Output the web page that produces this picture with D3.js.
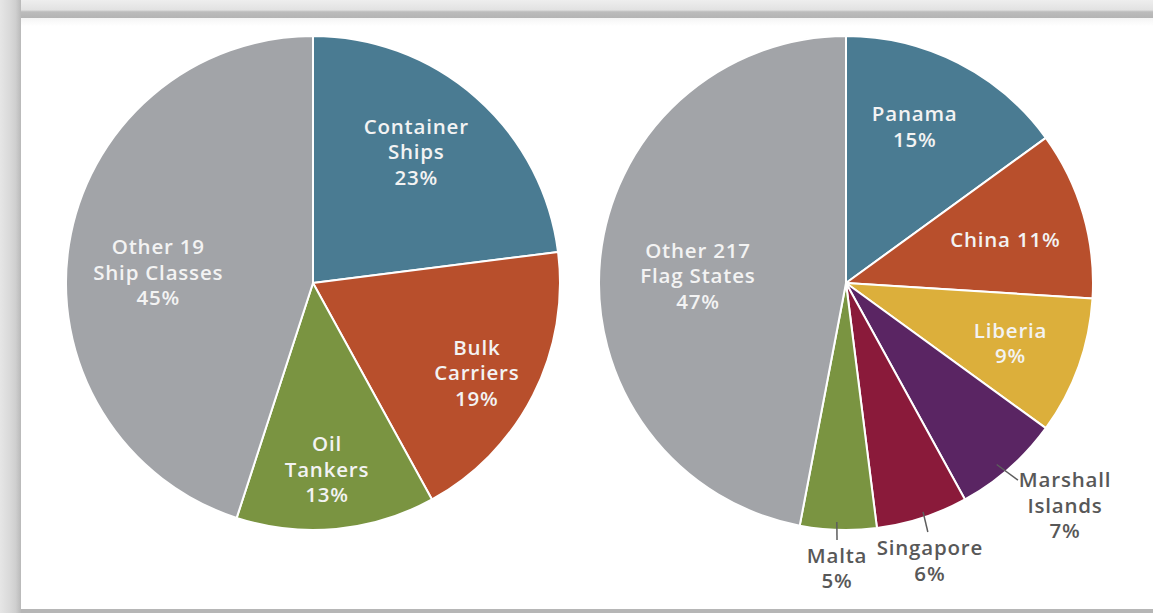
<!DOCTYPE html>
<html>
<head>
<meta charset="utf-8">
<script src="https://cdn.jsdelivr.net/npm/d3@7/dist/d3.min.js"></script>
<style>
  html, body { margin: 0; padding: 0; background: #ffffff; }
  svg { display: block; }
  text { font-family: "Open Sans", "DejaVu Sans", sans-serif; font-weight: 600; }
</style>
</head>
<body>
<svg id="chart" width="1153" height="613"></svg>
<script>
// Share of ships by class
const classNames   = ["Container Ships", "Bulk Carriers", "Oil Tankers", "Other 19 Ship Classes"];
const classLabels  = [["Container", "Ships", "23%"], ["Bulk", "Carriers", "19%"], ["Oil", "Tankers", "13%"], ["Other 19", "Ship Classes", "45%"]];
const classValues  = [23, 19, 13, 45];

// Share of ships by flag state
const flagNames    = ["Panama", "China", "Liberia", "Marshall Islands", "Singapore", "Malta", "Other 217 Flag States"];
const flagLabels   = [["Panama", "15%"], ["China 11%"], ["Liberia", "9%"], ["Marshall", "Islands", "7%"], ["Singapore", "6%"], ["Malta", "5%"], ["Other 217", "Flag States", "47%"]];
const flagValues   = [15, 11, 9, 7, 6, 5, 47];

// Slice colours
const classColors  = ["#4a7b92", "#b84f2c", "#7a9441", "#a2a4a8"];
const flagColors   = ["#4a7b92", "#b84f2c", "#dcaf3b", "#5a2563", "#8a1a3a", "#7a9441", "#a2a4a8"];

// Label placement in polar terms around each pie: [angle in degrees clockwise from 12 o'clock, radius as fraction of pie radius]
const classLabelPolar = [[38.2, 0.676], [118.8, 0.757], [175.7, 0.757], [274, 0.628]];
const flagLabelPolar  = [[23.7, 0.692], [74.9, 0.668], [110, 0.709], [135.4, 1.263], [163.2, 1.175], [181.8, 1.154], [272.7, 0.6]];
// Leader lines for the outside labels: [startAngle, startFrac, endAngle, endFrac]
const flagLeaders     = [null, null, null, [140.3, 0.955, 138.9, 1.059], [161.4, 0.978, 161.8, 1.061], [182.2, 0.968, 182.0, 1.041], null];
const flagOutside     = [false, false, false, true, true, true, false];

const W = 1153, H = 613;
const svg = d3.select("#chart");

// ---- page frame ----
const defs = svg.append("defs");
const gTop = defs.append("linearGradient").attr("id", "frameTop").attr("x1", 0).attr("y1", 0).attr("x2", 0).attr("y2", 1);
gTop.append("stop").attr("offset", "0%").attr("stop-color", "#eeeeee");
gTop.append("stop").attr("offset", "55%").attr("stop-color", "#e2e2e2");
gTop.append("stop").attr("offset", "66%").attr("stop-color", "#bcbcbc");
gTop.append("stop").attr("offset", "100%").attr("stop-color", "#b4b4b4");
const gLeft = defs.append("linearGradient").attr("id", "frameLeft").attr("x1", 0).attr("y1", 0).attr("x2", 1).attr("y2", 0);
gLeft.append("stop").attr("offset", "0%").attr("stop-color", "#e6e6e6");
gLeft.append("stop").attr("offset", "45%").attr("stop-color", "#dadada");
gLeft.append("stop").attr("offset", "75%").attr("stop-color", "#cfcfcf");
gLeft.append("stop").attr("offset", "100%").attr("stop-color", "#b9b9b9");
const gShade = defs.append("linearGradient").attr("id", "innerShade").attr("x1", 0).attr("y1", 0).attr("x2", 0).attr("y2", 1);
gShade.append("stop").attr("offset", "0%").attr("stop-color", "#f4f4f4");
gShade.append("stop").attr("offset", "100%").attr("stop-color", "#ffffff");

svg.append("rect").attr("x", 0).attr("y", 0).attr("width", W).attr("height", H).attr("fill", "#e4e4e4");
svg.append("rect").attr("x", 0).attr("y", 0).attr("width", W).attr("height", 18).attr("fill", "url(#frameTop)");
svg.append("rect").attr("x", 0).attr("y", 0).attr("width", 21).attr("height", H).attr("fill", "url(#frameLeft)");
svg.append("rect").attr("x", 21).attr("y", 609).attr("width", W - 21).attr("height", 4).attr("fill", "#b6b6b6");
svg.append("rect").attr("x", 21).attr("y", 18).attr("width", W - 21).attr("height", 591).attr("fill", "#ffffff");
svg.append("rect").attr("x", 21).attr("y", 18).attr("width", W - 21).attr("height", 8).attr("fill", "url(#innerShade)");

// ---- pies ----
const R = 247;
const pie = d3.pie().sort(null).value(d => d.value);
const arc = d3.arc().innerRadius(0).outerRadius(R);
const rad = deg => deg * Math.PI / 180;
const polar = (deg, frac) => [Math.sin(rad(deg)) * R * frac, -Math.cos(rad(deg)) * R * frac];

function drawPie(cx, cy, names, values, colors, labels, labelPolar, leaders, outside) {
  const data = names.map((n, i) => ({ name: n, value: values[i], color: colors[i], label: labels[i],
    pos: labelPolar[i], leader: leaders ? leaders[i] : null, outside: outside ? outside[i] : false }));
  const g = svg.append("g").attr("transform", `translate(${cx},${cy})`);

  g.selectAll("path.slice").data(pie(data)).join("path")
    .attr("class", "slice")
    .attr("d", arc)
    .attr("fill", d => d.data.color)
    .attr("stroke", "#ffffff")
    .attr("stroke-width", 2)
    .attr("stroke-linejoin", "round");

  const lead = data.filter(d => d.leader);
  g.selectAll("line.leader").data(lead).join("line")
    .attr("class", "leader")
    .attr("x1", d => polar(d.leader[0], d.leader[1])[0])
    .attr("y1", d => polar(d.leader[0], d.leader[1])[1])
    .attr("x2", d => polar(d.leader[2], d.leader[3])[0])
    .attr("y2", d => polar(d.leader[2], d.leader[3])[1])
    .attr("stroke", "#5d5d5d")
    .attr("stroke-width", 1.5);

  const lineH = 25.5;
  const labelsG = g.selectAll("text.lbl").data(data).join("text")
    .attr("class", "lbl")
    .attr("text-anchor", "middle")
    .attr("font-size", 20.5)
    .attr("letter-spacing", 0.8)
    .attr("fill", d => d.outside ? "#585858" : "#f3f3f3")
    .attr("transform", d => { const p = polar(d.pos[0], d.pos[1]); return `translate(${p[0]},${p[1]})`; });
  labelsG.each(function(d) {
    const n = d.label.length;
    d3.select(this).selectAll("tspan").data(d.label).join("tspan")
      .attr("x", 0)
      .attr("y", (t, i) => (i - (n - 1) / 2) * lineH)
      .attr("dy", "0.36em")
      .text(t => t);
  });
}

drawPie(313, 283, classNames, classValues, classColors, classLabels, classLabelPolar, null, null);
drawPie(846, 283, flagNames, flagValues, flagColors, flagLabels, flagLabelPolar, flagLeaders, flagOutside);
</script>
</body>
</html>
